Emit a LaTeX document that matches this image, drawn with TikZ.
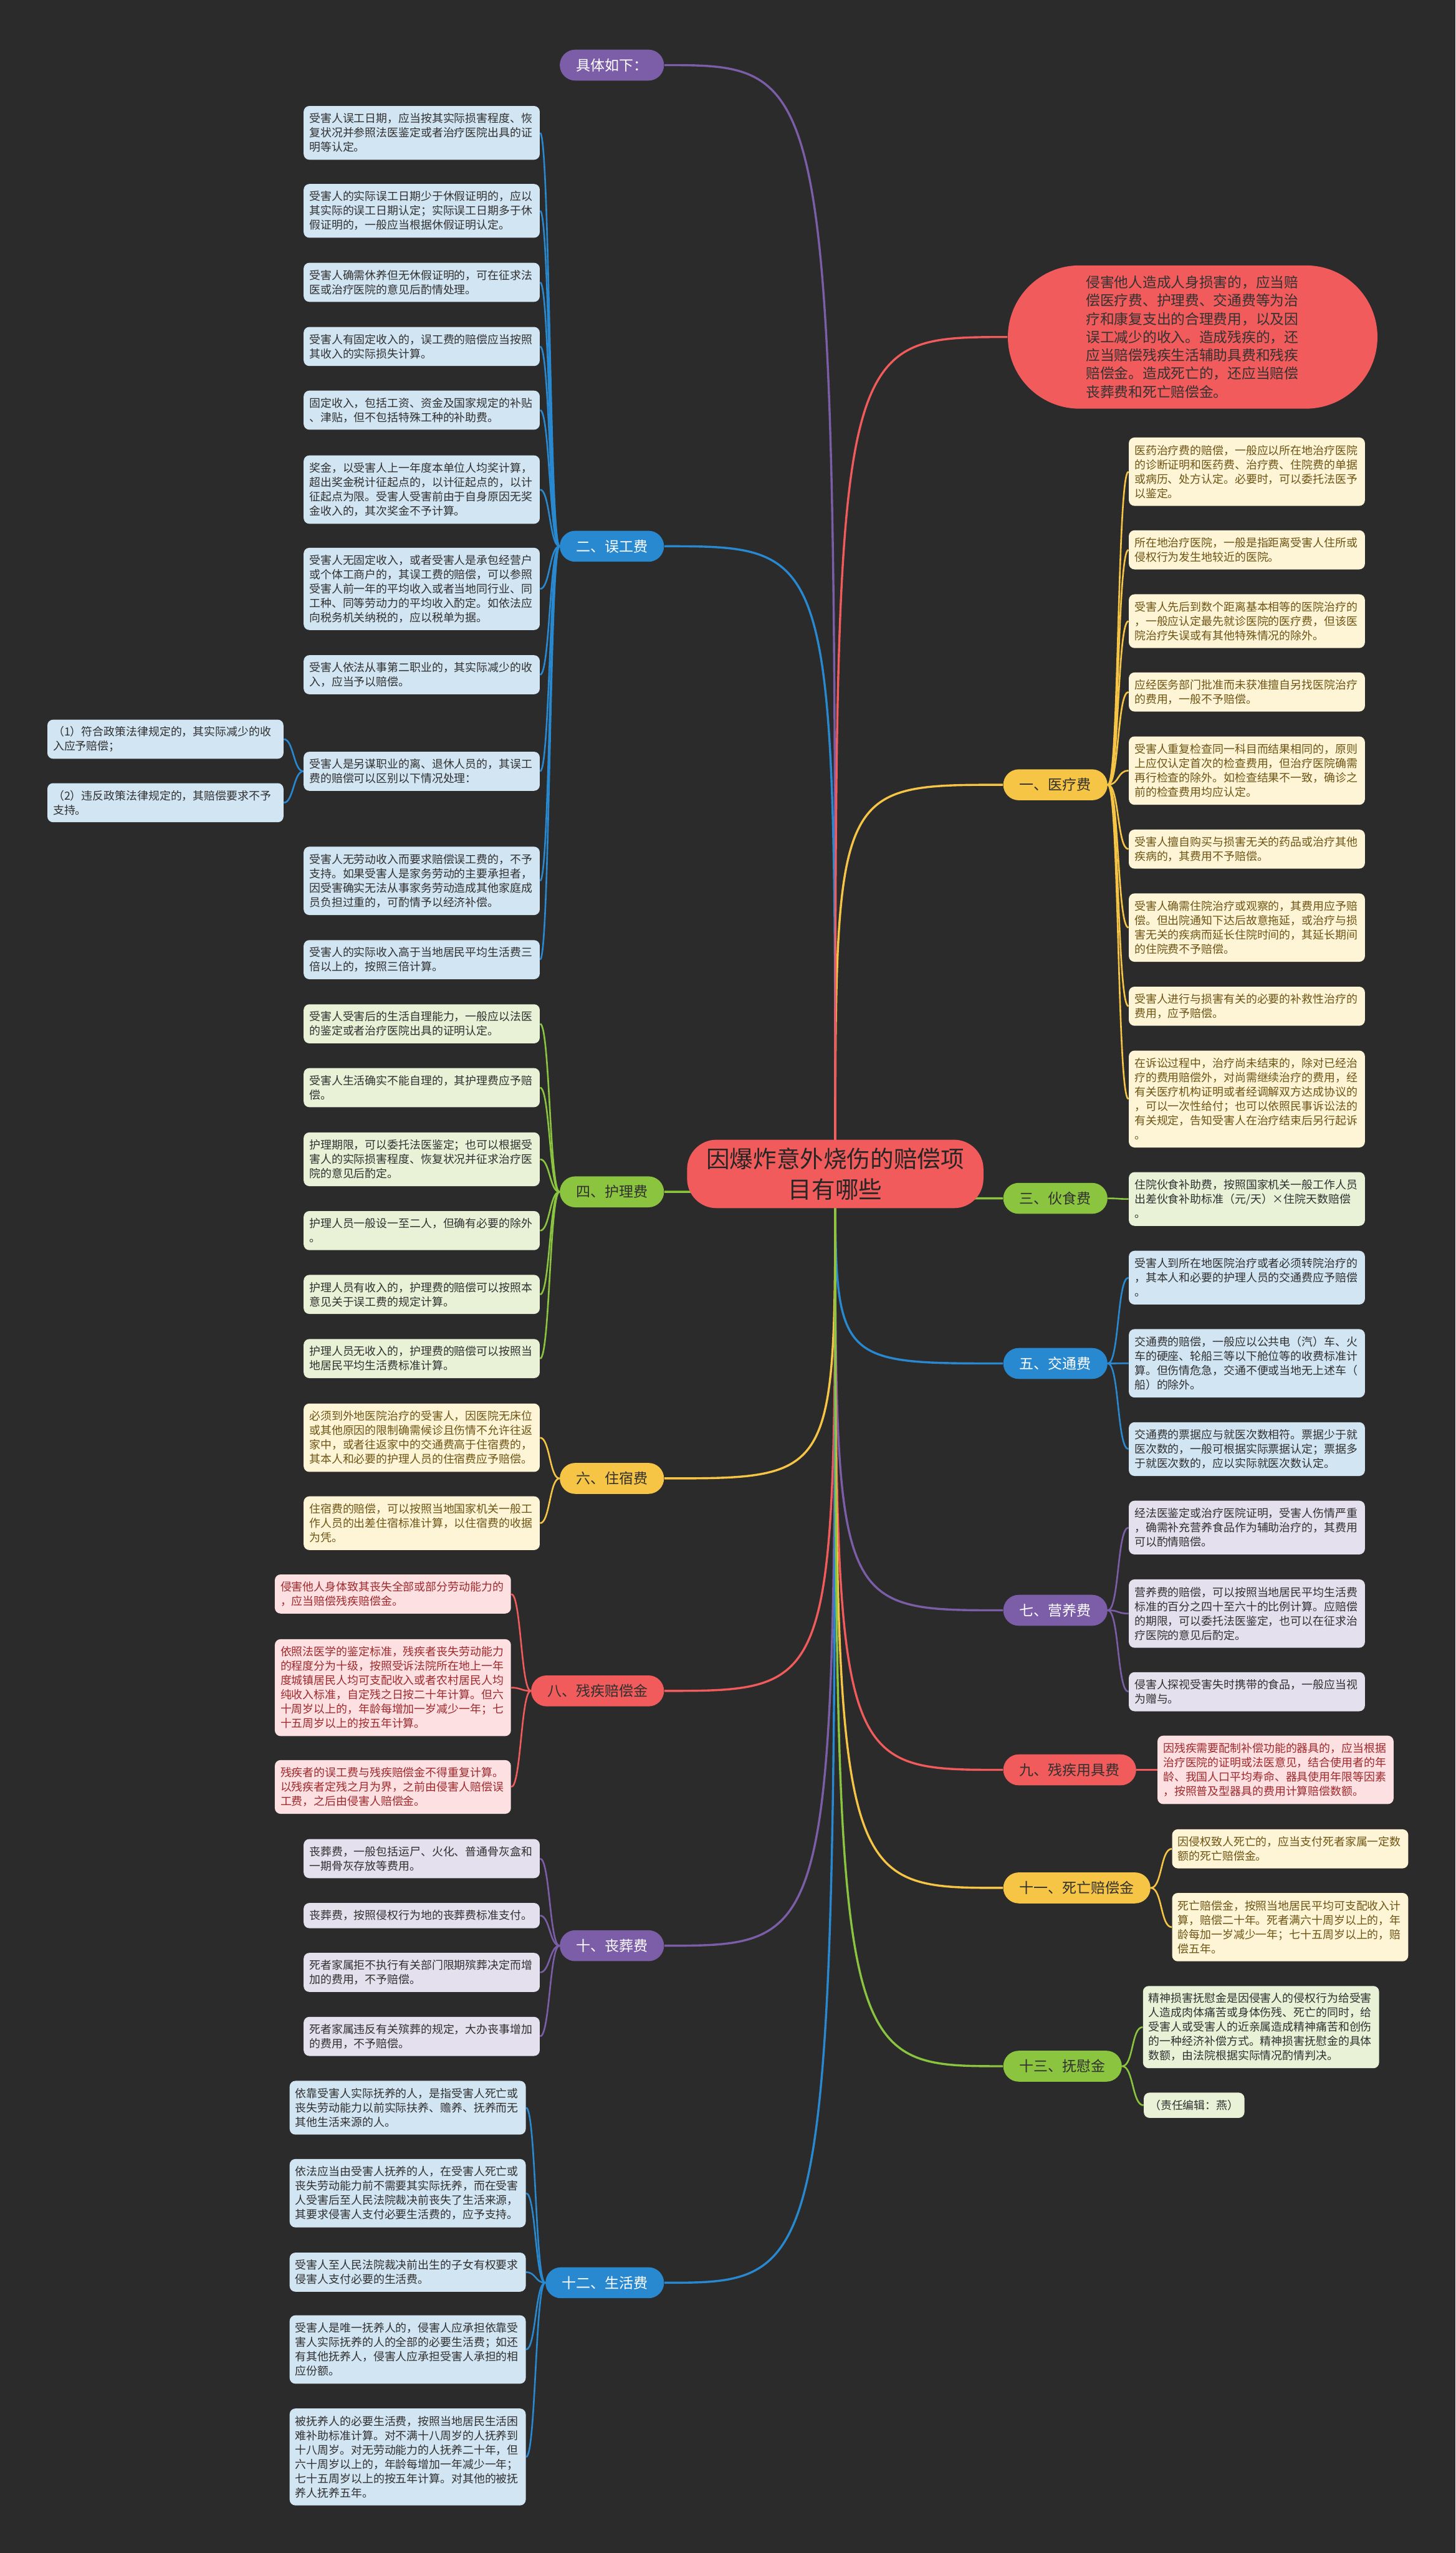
\documentclass[tikz,border=0pt]{standalone}
\usepackage{fontspec}
\setmainfont{Noto Sans CJK SC}
\pgfdeclarelayer{bg}
\pgfdeclarelayer{lines}
\pgfsetlayers{bg,lines,main}
\definecolor{bgc}{HTML}{2B2B2B}
\definecolor{cB}{HTML}{2989D0}
\definecolor{fB}{HTML}{D2E5F3}
\definecolor{cG}{HTML}{8BC540}
\definecolor{fG}{HTML}{E9F1D7}
\definecolor{cY}{HTML}{F7C545}
\definecolor{fY}{HTML}{FDF5D6}
\definecolor{tY}{HTML}{6E5414}
\definecolor{cR}{HTML}{F15B5B}
\definecolor{fR}{HTML}{FCE0E2}
\definecolor{tR}{HTML}{A0282B}
\definecolor{cP}{HTML}{7B5EA7}
\definecolor{fP}{HTML}{E4E0EE}
\definecolor{tD}{HTML}{303030}
\tikzset{
  leafbase/.style={rounded corners=3.5pt, inner xsep=3.5pt, inner ysep=0pt, align=left, font=\fontsize{6.85}{8.8}\selectfont},
  leaf/.style={leafbase, text width=138pt},
  lB/.style={leaf, fill=fB, text=tD},
  lG/.style={leaf, fill=fG, text=tD},
  lY/.style={leaf, fill=fY, text=tY},
  lR/.style={leaf, fill=fR, text=tR},
  lP/.style={leaf, fill=fP, text=tD},
  n1/.style={minimum height=15.5pt},
  n2/.style={minimum height=24pt},
  n3/.style={minimum height=33pt},
  n4/.style={minimum height=42pt},
  n5/.style={minimum height=50.5pt},
  n6/.style={minimum height=59.5pt},
  pill/.style={rounded corners=9.5pt, minimum height=19pt, inner xsep=10pt, inner ysep=0pt, font=\fontsize{8.8}{10}\selectfont},
  pL/.style={pill, anchor=east},
  pR/.style={pill, anchor=west},
  centre/.style={fill=cR, text=black!85, rounded corners=18pt, minimum width=182pt, minimum height=42pt, align=center, font=\fontsize{14.4}{19}\selectfont},
  cloudn/.style={fill=cR, text=black!80, rounded corners=44pt, minimum width=227pt, minimum height=88pt, inner sep=0pt, text width=131pt, align=left, font=\fontsize{8.7}{11.2}\selectfont},
  mainc/.style={line width=1.3pt},
  subc/.style={line width=1pt}
}
\newcommand\brL[4]{\draw[subc,#1] (#2.west) to[out=180,in=0,out distance=#4,in distance=#4] (#3.east);}
\newcommand\brR[4]{\draw[subc,#1] (#2.east) to[out=0,in=180,out distance=#4,in distance=#4] (#3.west);}
\begin{document}
\begin{tikzpicture}[x=1pt,y=-1pt]
\begin{pgfonlayer}{bg}
\fill[bgc] (0,0) rectangle (894,1568);
\end{pgfonlayer}
\useasboundingbox (0,0) rectangle (894,1568);

% centre and cloud
\node[centre] (C) at (513,721) {因爆炸意外烧伤的赔偿项\\目有哪些};
\node[cloudn] (Q) at (732.5,207) {侵害他人造成人身损害的，应当赔\\偿医疗费、护理费、交通费等为治\\疗和康复支出的合理费用，以及因\\误工减少的收入。造成残疾的，还\\应当赔偿残疾生活辅助具费和残疾\\赔偿金。造成死亡的，还应当赔偿\\丧葬费和死亡赔偿金。};

% left pills
\node[pL,fill=cP,text=white] (p0) at (408,40) {具体如下：};
\node[pL,fill=cB,text=white] (p2) at (408,335.5) {二、误工费};
\node[pL,fill=cG,text=tD] (p4) at (408,732) {四、护理费};
\node[pL,fill=cY,text=tD] (p6) at (408,908) {六、住宿费};
\node[pL,fill=cR,text=tD] (p8) at (408,1038.5) {八、残疾赔偿金};
\node[pL,fill=cP,text=white] (p10) at (408,1195) {十、丧葬费};
\node[pL,fill=cB,text=white] (p12) at (408,1402) {十二、生活费};
% right pills
\node[pR,fill=cY,text=tD] (p1) at (616,482) {一、医疗费};
\node[pR,fill=cG,text=tD] (p3) at (616,736) {三、伙食费};
\node[pR,fill=cB,text=white] (p5) at (616,837.4) {五、交通费};
\node[pR,fill=cP,text=white] (p7) at (616,989) {七、营养费};
\node[pR,fill=cR,text=tD] (p9) at (616,1087) {九、残疾用具费};
\node[pR,fill=cY,text=tD] (p11) at (616,1159.5) {十一、死亡赔偿金};
\node[pR,fill=cG,text=tD] (p13) at (616,1269) {十三、抚慰金};

% 误工费
\node[lB,n3] (b1) at (259,81.6) {受害人误工日期，应当按其实际损害程度、恢\\复状况并参照法医鉴定或者治疗医院出具的证\\明等认定。};
\node[lB,n3] (b2) at (259,129.5) {受害人的实际误工日期少于休假证明的，应以\\其实际的误工日期认定；实际误工日期多于休\\假证明的，一般应当根据休假证明认定。};
\node[lB,n2] (b3) at (259,173.4) {受害人确需休养但无休假证明的，可在征求法\\医或治疗医院的意见后酌情处理。};
\node[lB,n2] (b4) at (259,212.8) {受害人有固定收入的，误工费的赔偿应当按照\\其收入的实际损失计算。};
\node[lB,n2] (b5) at (259,251.9) {固定收入，包括工资、资金及国家规定的补贴\\、津贴，但不包括特殊工种的补助费。};
\node[lB,n4] (b6) at (259,300.7) {奖金，以受害人上一年度本单位人均奖计算，\\超出奖金税计征起点的，以计征起点的，以计\\征起点为限。受害人受害前由于自身原因无奖\\金收入的，其次奖金不予计算。};
\node[lB,n5] (b7) at (259,361.7) {受害人无固定收入，或者受害人是承包经营户\\或个体工商户的，其误工费的赔偿，可以参照\\受害人前一年的平均收入或者当地同行业、同\\工种、同等劳动力的平均收入酌定。如依法应\\向税务机关纳税的，应以税单为据。};
\node[lB,n2] (b8) at (259,414.4) {受害人依法从事第二职业的，其实际减少的收\\入，应当予以赔偿。};
\node[lB,n2] (b9) at (259,473.7) {受害人是另谋职业的离、退休人员的，其误工\\费的赔偿可以区别以下情况处理：};
\node[lB,n4] (b10) at (259,541) {受害人无劳动收入而要求赔偿误工费的，不予\\支持。如果受害人是家务劳动的主要承担者，\\因受害确实无法从事家务劳动造成其他家庭成\\员负担过重的，可酌情予以经济补偿。};
\node[lB,n2] (b11) at (259,589.4) {受害人的实际收入高于当地居民平均生活费三\\倍以上的，按照三倍计算。};
\node[lB,n2] (e1) at (101.6,454) {（1）符合政策法律规定的，其实际减少的收\\入应予赔偿；};
\node[lB,n2] (e2) at (101.6,493) {（2）违反政策法律规定的，其赔偿要求不予\\支持。};

% 护理费
\node[lG,n2] (h1) at (259,628.8) {受害人受害后的生活自理能力，一般应以法医\\的鉴定或者治疗医院出具的证明认定。};
\node[lG,n2] (h2) at (259,668) {受害人生活确实不能自理的，其护理费应予赔\\偿。};
\node[lG,n3] (h3) at (259,712) {护理期限，可以委托法医鉴定；也可以根据受\\害人的实际损害程度、恢复状况并征求治疗医\\院的意见后酌定。};
\node[lG,n2] (h4) at (259,755.8) {护理人员一般设一至二人，但确有必要的除外\\。};
\node[lG,n2] (h5) at (259,795) {护理人员有收入的，护理费的赔偿可以按照本\\意见关于误工费的规定计算。};
\node[lG,n2] (h6) at (259,834.4) {护理人员无收入的，护理费的赔偿可以按照当\\地居民平均生活费标准计算。};

% 住宿费
\node[lY,n4] (z1) at (259,883) {必须到外地医院治疗的受害人，因医院无床位\\或其他原因的限制确需候诊且伤情不允许往返\\家中，或者往返家中的交通费高于住宿费的，\\其本人和必要的护理人员的住宿费应予赔偿。};
\node[lY,n3] (z2) at (259,935.5) {住宿费的赔偿，可以按照当地国家机关一般工\\作人员的出差住宿标准计算，以住宿费的收据\\为凭。};

% 残疾赔偿金
\node[lR,n2] (c1) at (241.3,979) {侵害他人身体致其丧失全部或部分劳动能力的\\，应当赔偿残疾赔偿金。};
\node[lR,n6] (c2) at (241.3,1036.5) {依照法医学的鉴定标准，残疾者丧失劳动能力\\的程度分为十级，按照受诉法院所在地上一年\\度城镇居民人均可支配收入或者农村居民人均\\纯收入标准，自定残之日按二十年计算。但六\\十周岁以上的，年龄每增加一岁减少一年；七\\十五周岁以上的按五年计算。};
\node[lR,n3] (c3) at (241.3,1097.5) {残疾者的误工费与残疾赔偿金不得重复计算。\\以残疾者定残之月为界，之前由侵害人赔偿误\\工费，之后由侵害人赔偿金。};

% 丧葬费
\node[lP,n2] (s1) at (259,1141.5) {丧葬费，一般包括运尸、火化、普通骨灰盒和\\一期骨灰存放等费用。};
\node[lP,n1] (s2) at (259,1176.5) {丧葬费，按照侵权行为地的丧葬费标准支付。};
\node[lP,n2] (s3) at (259,1211.4) {死者家属拒不执行有关部门限期殡葬决定而增\\加的费用，不予赔偿。};
\node[lP,n2] (s4) at (259,1250.7) {死者家属违反有关殡葬的规定，大办丧事增加\\的费用，不予赔偿。};

% 生活费
\node[lB,n3] (l1) at (250.4,1294.5) {依靠受害人实际抚养的人，是指受害人死亡或\\丧失劳动能力以前实际扶养、赡养、抚养而无\\其他生活来源的人。};
\node[lB,n4] (l2) at (250.4,1347) {依法应当由受害人抚养的人，在受害人死亡或\\丧失劳动能力前不需要其实际抚养，而在受害\\人受害后至人民法院裁决前丧失了生活来源，\\其要求侵害人支付必要生活费的，应予支持。};
\node[lB,n2] (l3) at (250.4,1395.5) {受害人至人民法院裁决前出生的子女有权要求\\侵害人支付必要的生活费。};
\node[lB,n4] (l4) at (250.4,1443) {受害人是唯一抚养人的，侵害人应承担依靠受\\害人实际抚养的人的全部的必要生活费；如还\\有其他抚养人，侵害人应承担受害人承担的相\\应份额。};
\node[lB,n6] (l5) at (250.4,1509) {被抚养人的必要生活费，按照当地居民生活困\\难补助标准计算。对不满十八周岁的人抚养到\\十八周岁。对无劳动能力的人抚养二十年，但\\六十周岁以上的，年龄每增加一年减少一年；\\七十五周岁以上的按五年计算。对其他的被抚\\养人抚养五年。};

% 医疗费
\node[lY,n4] (m1) at (765.8,289.7) {医药治疗费的赔偿，一般应以所在地治疗医院\\的诊断证明和医药费、治疗费、住院费的单据\\或病历、处方认定。必要时，可以委托法医予\\以鉴定。};
\node[lY,n2] (m2) at (765.8,337.7) {所在地治疗医院，一般是指距离受害人住所或\\侵权行为发生地较近的医院。};
\node[lY,n3] (m3) at (765.8,381.5) {受害人先后到数个距离基本相等的医院治疗的\\，一般应认定最先就诊医院的医疗费，但该医\\院治疗失误或有其他特殊情况的除外。};
\node[lY,n2] (m4) at (765.8,425) {应经医务部门批准而未获准擅自另找医院治疗\\的费用，一般不予赔偿。};
\node[lY,n4] (m5) at (765.8,473.3) {受害人重复检查同一科目而结果相同的，原则\\上应仅认定首次的检查费用，但治疗医院确需\\再行检查的除外。如检查结果不一致，确诊之\\前的检查费用均应认定。};
\node[lY,n2] (m6) at (765.8,521.5) {受害人擅自购买与损害无关的药品或治疗其他\\疾病的，其费用不予赔偿。};
\node[lY,n4] (m7) at (765.8,569.7) {受害人确需住院治疗或观察的，其费用应予赔\\偿。但出院通知下达后故意拖延，或治疗与损\\害无关的疾病而延长住院时间的，其延长期间\\的住院费不予赔偿。};
\node[lY,n2] (m8) at (765.8,618) {受害人进行与损害有关的必要的补救性治疗的\\费用，应予赔偿。};
\node[lY,n6] (m9) at (765.8,675) {在诉讼过程中，治疗尚未结束的，除对已经治\\疗的费用赔偿外，对尚需继续治疗的费用，经\\有关医疗机构证明或者经调解双方达成协议的\\，可以一次性给付；也可以依照民事诉讼法的\\有关规定，告知受害人在治疗结束后另行起诉\\。};

% 伙食费
\node[lG,n3] (f1) at (765.8,736.4) {住院伙食补助费，按照国家机关一般工作人员\\出差伙食补助标准（元/天）×住院天数赔偿\\。};

% 交通费
\node[lB,n3] (t1) at (765.8,784.7) {受害人到所在地医院治疗或者必须转院治疗的\\，其本人和必要的护理人员的交通费应予赔偿\\。};
\node[lB,n4] (t2) at (765.8,837.3) {交通费的赔偿，一般应以公共电（汽）车、火\\车的硬座、轮船三等以下舱位等的收费标准计\\算。但伤情危急，交通不便或当地无上述车（\\船）的除外。};
\node[lB,n3] (t3) at (765.8,890) {交通费的票据应与就医次数相符。票据少于就\\医次数的，一般可根据实际票据认定；票据多\\于就医次数的，应以实际就医次数认定。};

% 营养费
\node[lP,n3] (y1) at (765.8,938.2) {经法医鉴定或治疗医院证明，受害人伤情严重\\，确需补充营养食品作为辅助治疗的，其费用\\可以酌情赔偿。};
\node[lP,n4] (y2) at (765.8,991) {营养费的赔偿，可以按照当地居民平均生活费\\标准的百分之四十至六十的比例计算。应赔偿\\的期限，可以委托法医鉴定，也可以在征求治\\疗医院的意见后酌定。};
\node[lP,n2] (y3) at (765.8,1039) {侵害人探视受害失时携带的食品，一般应当视\\为赠与。};

% 残疾用具费
\node[lR,n4] (r1) at (783.4,1087) {因残疾需要配制补偿功能的器具的，应当根据\\治疗医院的证明或法医意见，结合使用者的年\\龄、我国人口平均寿命、器具使用年限等因素\\，按照普及型器具的费用计算赔偿数额。};

% 死亡赔偿金
\node[lY,n2] (d1) at (792.4,1135.5) {因侵权致人死亡的，应当支付死者家属一定数\\额的死亡赔偿金。};
\node[lY,n4] (d2) at (792.4,1183.6) {死亡赔偿金，按照当地居民平均可支配收入计\\算，赔偿二十年。死者满六十周岁以上的，年\\龄每加一岁减少一年；七十五周岁以上的，赔\\偿五年。};

% 抚慰金
\node[lG,n5] (w1) at (774.5,1245) {精神损害抚慰金是因侵害人的侵权行为给受害\\人造成肉体痛苦或身体伤残、死亡的同时，给\\受害人或受害人的近亲属造成精神痛苦和创伤\\的一种经济补偿方式。精神损害抚慰金的具体\\数额，由法院根据实际情况酌情判决。};
\node[leafbase,fill=fG,text=tD,n1,anchor=west] (w2) at (702.3,1293) {（责任编辑：燕）};

% connectors
\begin{pgfonlayer}{lines}
\foreach \p/\c in {p0/cP,p2/cB,p4/cG,p6/cY,p8/cR,p10/cP,p12/cB}
  \draw[mainc,\c] (C.center) .. controls (C.center |- \p.east) .. (\p.east);
\foreach \p/\c in {p1/cY,p3/cG,p5/cB,p7/cP,p9/cR,p11/cY,p13/cG}
  \draw[mainc,\c] (C.center) .. controls (C.center |- \p.west) .. (\p.west);
\draw[mainc,cR] (C.center) .. controls (C.center |- Q.west) .. (Q.west);

\foreach \c in {b1,b2,b3,b4,b5,b6,b7,b8,b9,b10,b11} {\brL{cB}{p2}{\c}{6pt}}
\foreach \c in {e1,e2} {\brL{cB}{b9}{\c}{6pt}}
\foreach \c in {h1,h2,h3,h4,h5,h6} {\brL{cG}{p4}{\c}{6pt}}
\foreach \c in {z1,z2} {\brL{cY}{p6}{\c}{6pt}}
\foreach \c in {c1,c2,c3} {\brL{cR}{p8}{\c}{6pt}}
\foreach \c in {s1,s2,s3,s4} {\brL{cP}{p10}{\c}{6pt}}
\foreach \c in {l1,l2,l3,l4,l5} {\brL{cB}{p12}{\c}{6pt}}

\foreach \c in {m1,m2,m3,m4,m5,m6,m7,m8,m9} {\brR{cY}{p1}{\c}{7pt}}
\brR{cG}{p3}{f1}{7pt}
\foreach \c in {t1,t2,t3} {\brR{cB}{p5}{\c}{7pt}}
\foreach \c in {y1,y2,y3} {\brR{cP}{p7}{\c}{7pt}}
\brR{cR}{p9}{r1}{6pt}
\foreach \c in {d1,d2} {\brR{cY}{p11}{\c}{7pt}}
\foreach \c in {w1,w2} {\brR{cG}{p13}{\c}{7pt}}
\end{pgfonlayer}
\end{tikzpicture}
\end{document}
